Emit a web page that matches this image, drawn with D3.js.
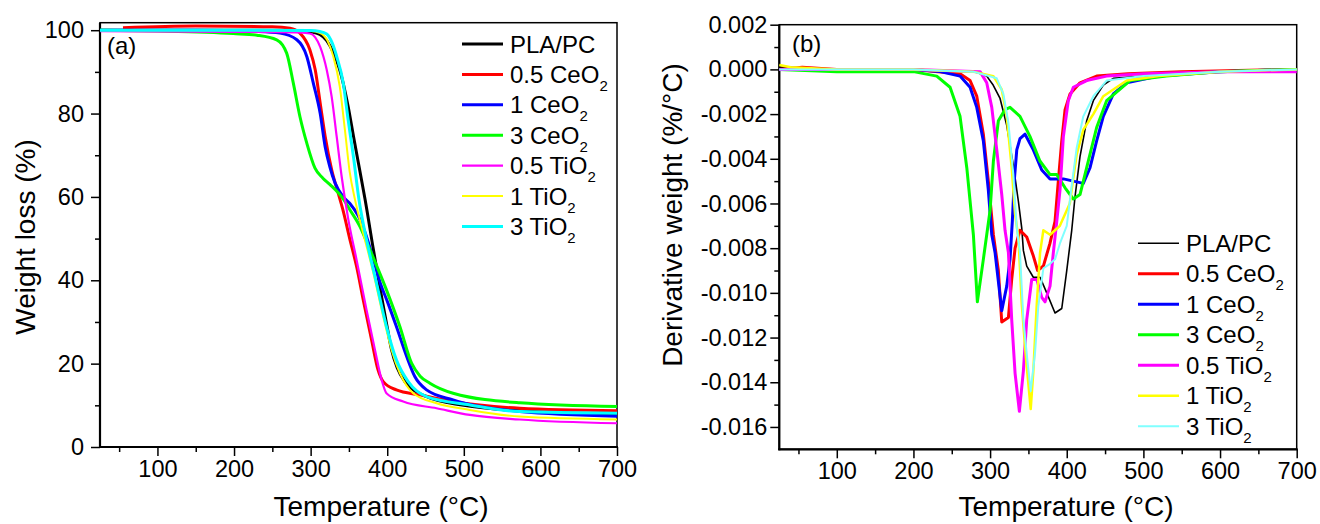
<!DOCTYPE html>
<html>
<head>
<meta charset="utf-8">
<script src="https://cdn.jsdelivr.net/npm/d3@7"></script>
<style>
  body { margin: 0; background: #fff; }
  text { font-family: "Liberation Sans", Arial, sans-serif; fill: #000; }
</style>
</head>
<body>
<div id="chart"></div>
<script>

// Legend labels (main text + subscript)
var seriesLabels = [["PLA/PC", ""], ["0.5 CeO", "2"], ["1 CeO", "2"], ["3 CeO", "2"],
                    ["0.5 TiO", "2"], ["1 TiO", "2"], ["3 TiO", "2"]];

// Tick values
var tempTicks = [100, 200, 300, 400, 500, 600, 700];
var tempMinor = [50, 150, 250, 350, 450, 550, 650];
var tgaTicks = [0, 20, 40, 60, 80, 100];
var tgaMinor = [10, 30, 50, 70, 90];
var dtgTicks = [0.002, 0, -0.002, -0.004, -0.006, -0.008, -0.010, -0.012, -0.014, -0.016];
var dtgMinor = [0.001, -0.001, -0.003, -0.005, -0.007, -0.009, -0.011, -0.013, -0.015];

// (a) TGA: [temperature, weight %]
var tgaPLAPC = [[25,100],[100,100],[200,100],[280,99.9],[300,99.6],[312,99],[321,97.5],[330,94.5],[338,90.5],[349,81.7],[356,74.5],[364,66.5],[371,59.5],[382,47.3],[392.7,36],[399,29.7],[405.7,23.3],[413,19],[423,15.7],[450,12.2],[500,10],[573,8.7],[650,8.1],[700,7.8]];
var tgaCe05 = [[55,100.6],[150,101],[250,100.8],[273,100.5],[286,99.3],[299,95.3],[306,90.5],[312.5,82.5],[319,74.5],[327.5,66.5],[336,60.9],[342,57],[351,50],[360,43.3],[368.7,35.3],[379.6,25.7],[388,18.5],[394.8,15.7],[412,13.7],[442.6,12.5],[486,10.9],[573,9.3],[700,8.7]];
var tgaCe1 = [[25,100],[150,100],[230,99.7],[260,99.3],[282,97.7],[295,93.7],[303.5,87.3],[312.5,80],[319,72],[325,67.3],[332,63.3],[342.6,60],[351,58.5],[362,55.5],[372,51],[382,45],[391,39.3],[400,35],[412,28.9],[425.4,21.7],[436,16.9],[451.4,13.7],[486,11.3],[573,8.5],[700,7.4]];
var tgaCe3 = [[25,100],[100,99.8],[199,99.2],[230,98.8],[255.7,97.7],[268.7,94.5],[277.4,87.3],[286,79.3],[295,72.9],[305.7,66.9],[316,64.5],[325,63],[342.6,59.5],[351,57],[364.4,52.9],[377.5,47.3],[399,37.7],[416.5,28.9],[431.8,20.1],[443,17],[455.7,15.3],[486,12.9],[573,10.6],[700,9.7]];
var tgaTi05 = [[25,99.8],[200,99.6],[280,99.5],[299,99.2],[306,98.3],[312.5,96],[321,90.5],[327.5,84],[334,74.5],[340.5,64.9],[349,54.8],[360,44.9],[373,32.9],[384,23.3],[392.7,16.1],[399,12.9],[420.9,10.9],[464.4,9.3],[508,7.7],[573,6.6],[700,5.7]];
var tgaTi1 = [[25,100],[200,100],[300,99.8],[312.5,99.3],[322,97.5],[329.6,93.7],[338,86.5],[344.8,76],[351,66],[358,59.3],[368.7,51.3],[382,41.7],[394.8,31.3],[405.7,23.3],[416.5,17.7],[433.9,12.9],[464.4,10.5],[508,8.9],[573,7.3],[700,6.6]];
var tgaTi3 = [[25,100],[200,100],[300,99.9],[312,99.7],[321,99.1],[328,97],[334,93.7],[342.6,87.3],[349,78.5],[356,69.5],[363,59.5],[373,49.7],[386,39.3],[399,28.9],[412,20.9],[427.4,15.7],[451.4,12.1],[508,10.1],[573,8.5],[700,8.1]];

// (b) DTG: [temperature, derivative weight %/°C]
var dtgPLAPC = [[25,0.0001],[100,0],[200,-0.00005],[280,-0.0001],[295.6,-0.0003],[304,-0.0007],[313,-0.0013],[321.7,-0.0025],[330.3,-0.0043],[336.9,-0.0059],[341.3,-0.0071],[343.4,-0.0081],[347.8,-0.0088],[356.4,-0.0093],[365.2,-0.0093],[373.9,-0.0100],[384.7,-0.0109],[393.5,-0.0107],[400,-0.0090],[406.5,-0.0072],[410.8,-0.0057],[417.3,-0.0039],[426,-0.0023],[434.7,-0.0014],[447.7,-0.0007],[460.8,-0.0004],[500,-0.0003],[550,-0.0002],[600,-0.0001],[700,-0.00005]];
var dtgCe05 = [[25,0],[55,0.0001],[100,0],[200,0],[260.8,-0.0002],[273.9,-0.0005],[282.6,-0.0012],[291.2,-0.0029],[297.7,-0.0050],[304.3,-0.0074],[310.8,-0.0090],[315.2,-0.0113],[323.9,-0.0111],[328.2,-0.0094],[332.6,-0.0080],[339,-0.0072],[347.8,-0.0075],[356,-0.0083],[362,-0.0090],[369.5,-0.0088],[378,-0.0078],[384.7,-0.0068],[389,-0.0050],[393.5,-0.0032],[397.8,-0.0018],[404.3,-0.0011],[417.3,-0.0006],[439,-0.0003],[480,-0.0002],[550,-0.0001],[700,0]];
var dtgCe1 = [[25,0],[100,0],[200,0],[234.7,-0.0001],[260.8,-0.0003],[273.9,-0.0008],[282.6,-0.0017],[291.2,-0.0032],[297.7,-0.0054],[302.2,-0.0074],[306.5,-0.0082],[315.2,-0.0108],[321.7,-0.0097],[326,-0.0085],[329,-0.0068],[331.5,-0.0050],[334.8,-0.0036],[339,-0.0031],[345.6,-0.0029],[356.4,-0.0036],[367.4,-0.0045],[378.2,-0.0049],[395.6,-0.0049],[408.6,-0.0050],[421.6,-0.0051],[430.4,-0.0044],[439,-0.0032],[447.7,-0.0021],[460.8,-0.0011],[478.2,-0.0006],[520,-0.0003],[600,-0.0001],[700,0]];
var dtgCe3 = [[25,0],[100,-0.0001],[200,-0.0001],[230.4,-0.0003],[247.8,-0.0008],[260.8,-0.0021],[269.6,-0.0044],[278.2,-0.0074],[283.4,-0.0104],[291.2,-0.0085],[300,-0.0063],[304.3,-0.0041],[310.8,-0.0023],[319.5,-0.0018],[326,-0.0017],[339,-0.0021],[352,-0.0030],[365,-0.0041],[378,-0.0047],[387,-0.0047],[397.8,-0.0053],[408.6,-0.0058],[417.3,-0.0056],[426,-0.0044],[439,-0.0026],[452,-0.0014],[482.6,-0.0005],[530,-0.0003],[600,-0.0001],[700,0]];
var dtgTi05 = [[25,0],[100,0],[200,0],[287,-0.0001],[295.6,-0.0006],[302.2,-0.0017],[308.7,-0.0036],[315.2,-0.0056],[319.5,-0.0072],[323.9,-0.0082],[328.2,-0.0112],[332.6,-0.0136],[338.2,-0.0153],[343.4,-0.0135],[347.8,-0.0112],[354.3,-0.0094],[360.9,-0.0094],[367.4,-0.0102],[371.7,-0.0104],[378.2,-0.0097],[382.5,-0.0082],[387,-0.0068],[391.2,-0.0054],[395.6,-0.0030],[402,-0.0014],[408.6,-0.0008],[426,-0.0005],[452,-0.0003],[500,-0.0002],[600,-0.0001],[700,-0.0001]];
var dtgTi1 = [[25,0.0002],[40,0.0001],[100,0],[200,0],[278,-0.0001],[304.3,-0.0003],[315.2,-0.0009],[321.7,-0.0021],[328.2,-0.0044],[332.6,-0.0065],[336.9,-0.0075],[341.3,-0.0105],[347,-0.0130],[353,-0.0152],[356.4,-0.0135],[360.9,-0.0105],[365.2,-0.0082],[369.5,-0.0072],[378.2,-0.0074],[384.7,-0.0072],[391,-0.0070],[404,-0.0060],[408,-0.0050],[413,-0.0038],[421.6,-0.0027],[434.7,-0.0020],[447.7,-0.0012],[478.2,-0.0005],[520,-0.0003],[600,-0.0001],[700,0]];
var dtgTi3 = [[25,0],[100,0],[200,0],[278,-0.0001],[308.7,-0.0004],[317.3,-0.0011],[323.9,-0.0024],[330.3,-0.0047],[334.8,-0.0071],[339,-0.0082],[343.4,-0.0112],[348.6,-0.0130],[353,-0.0144],[358.6,-0.0127],[362.9,-0.0106],[369.5,-0.0089],[378.2,-0.0087],[384.7,-0.0085],[391,-0.0078],[400,-0.0070],[406.5,-0.0052],[413,-0.0035],[421.6,-0.0021],[434.7,-0.0012],[452,-0.0005],[500,-0.0003],[600,-0.0001],[700,0]];

var tgaData = [tgaPLAPC, tgaCe05, tgaCe1, tgaCe3, tgaTi05, tgaTi1, tgaTi3];
var dtgData = [dtgPLAPC, dtgCe05, dtgCe1, dtgCe3, dtgTi05, dtgTi1, dtgTi3];

var svg = d3.select("#chart")
    .append("svg")
        .attr("width", 1320)
        .attr("height", 524);

// Draw one panel: axes, frame, curves, legend
function drawPanel(p) {
    var x = d3.scaleLinear().domain([25, 700]).range(p.xRange);
    var y = d3.scaleLinear().domain(p.yDomain).range(p.yRange);
    var g = svg.append("g");

    // minor ticks
    g.append("g")
        .attr("transform", `translate(0, ${p.yRange[0]})`)
        .call(d3.axisBottom(x).tickValues(tempMinor).tickSize(5).tickSizeOuter(0).tickFormat(""));
    g.append("g")
        .attr("transform", `translate(${p.xRange[0]}, 0)`)
        .call(d3.axisLeft(y).tickValues(p.yMinor).tickSize(5).tickSizeOuter(0).tickFormat(""));

    // major ticks
    g.append("g")
        .attr("transform", `translate(0, ${p.yRange[0]})`)
        .call(d3.axisBottom(x).tickValues(tempTicks).tickSize(9).tickPadding(4).tickSizeOuter(0));
    g.append("g")
        .attr("transform", `translate(${p.xRange[0]}, 0)`)
        .call(d3.axisLeft(y).tickValues(p.yTicks).tickSize(9).tickPadding(p.yPad).tickSizeOuter(0).tickFormat(p.yFormat));

    g.selectAll(".tick line").attr("stroke", "#000").attr("stroke-width", 1.5);
    g.selectAll(".domain").attr("stroke", "none");
    g.selectAll(".tick text").attr("font-size", "23.5px").attr("font-family", "Liberation Sans, Arial, sans-serif");

    // frame
    g.append("rect")
        .attr("x", p.xRange[0]).attr("y", p.yRange[1])
        .attr("width", p.xRange[1] - p.xRange[0])
        .attr("height", p.yRange[0] - p.yRange[1])
        .attr("fill", "none").attr("stroke", "#000").attr("stroke-width", 1.5);
    g.append("line")
        .attr("x1", p.xRange[0]).attr("x2", p.xRange[0])
        .attr("y1", p.yRange[1]).attr("y2", p.yRange[0] + 1)
        .attr("stroke", "#000").attr("stroke-width", 2.2);
    g.append("line")
        .attr("x1", p.xRange[0] - 1).attr("x2", p.xRange[1] + 1)
        .attr("y1", p.yRange[0]).attr("y2", p.yRange[0])
        .attr("stroke", "#000").attr("stroke-width", 2.2);

    // curves
    var line = d3.line()
        .x(d => x(d[0]))
        .y(d => y(d[1]))
        .curve(p.curve);

    p.data.forEach(function(series, i) {
        g.append("path")
            .datum(series)
            .attr("fill", "none")
            .attr("stroke", p.colors[i])
            .attr("stroke-width", p.widths[i])
            .attr("stroke-linejoin", "round")
            .attr("d", line);
    });

    // legend
    seriesLabels.forEach(function(lab, i) {
        var ly = p.legY + i * p.legStep;
        g.append("line")
            .attr("x1", p.legX).attr("x2", p.legX + 41)
            .attr("y1", ly).attr("y2", ly)
            .attr("stroke", p.colors[i]).attr("stroke-width", p.widths[i]);
        var t = g.append("text")
            .attr("x", p.legX + 48).attr("y", ly + 8.5)
            .attr("font-size", "24px")
            .text(lab[0]);
        if (lab[1]) {
            t.append("tspan").attr("font-size", "15px").attr("dy", 8).text(lab[1]);
        }
    });

    // panel label
    g.append("text")
        .attr("x", p.tagX).attr("y", p.tagY)
        .attr("font-size", "24px")
        .text(p.tag);

    // axis titles
    g.append("text")
        .attr("x", p.xTitleX).attr("y", 516)
        .attr("text-anchor", "middle")
        .attr("font-size", "28px")
        .text("Temperature (°C)");
    g.append("text")
        .attr("transform", `translate(${p.yTitleX}, ${p.yTitleY}) rotate(-90)`)
        .attr("text-anchor", "middle")
        .attr("font-size", "28px")
        .text(p.yTitle);
}

var baseColors = ["#000000", "#ff0000", "#0000ff", "#00ff00", "#ff00ff", "#ffff00", "#00ffff"];

drawPanel({
    xRange: [100, 617], yDomain: [0, 101.8], yRange: [447, 22.7],
    yTicks: tgaTicks, yMinor: tgaMinor, yPad: 7, yFormat: d3.format("d"),
    data: tgaData, curve: d3.curveMonotoneX,
    colors: baseColors, widths: [3, 3, 3, 3, 2.2, 2, 3],
    legX: 462, legY: 44, legStep: 30.4,
    tag: "(a)", tagX: 107, tagY: 54,
    xTitleX: 381, yTitleX: 35, yTitleY: 237,
    yTitle: "Weight loss (%)"
});

drawPanel({
    xRange: [779.3, 1296.7], yDomain: [-0.017, 0.002], yRange: [449.3, 24.7],
    yTicks: dtgTicks, yMinor: dtgMinor, yPad: 3, yFormat: d => d.toFixed(3),
    data: dtgData, curve: d3.curveLinear,
    colors: ["#000000", "#ff0000", "#0000ff", "#00ff00", "#ff00ff", "#ffff00", "#80ffff"],
    widths: [1.6, 3, 3, 3, 3, 2.5, 2],
    legX: 1138, legY: 243.3, legStep: 30.5,
    tag: "(b)", tagX: 792, tagY: 52,
    xTitleX: 1066, yTitleX: 682, yTitleY: 215,
    yTitle: "Derivative weight (%/°C)"
});

</script>
</body>
</html>
